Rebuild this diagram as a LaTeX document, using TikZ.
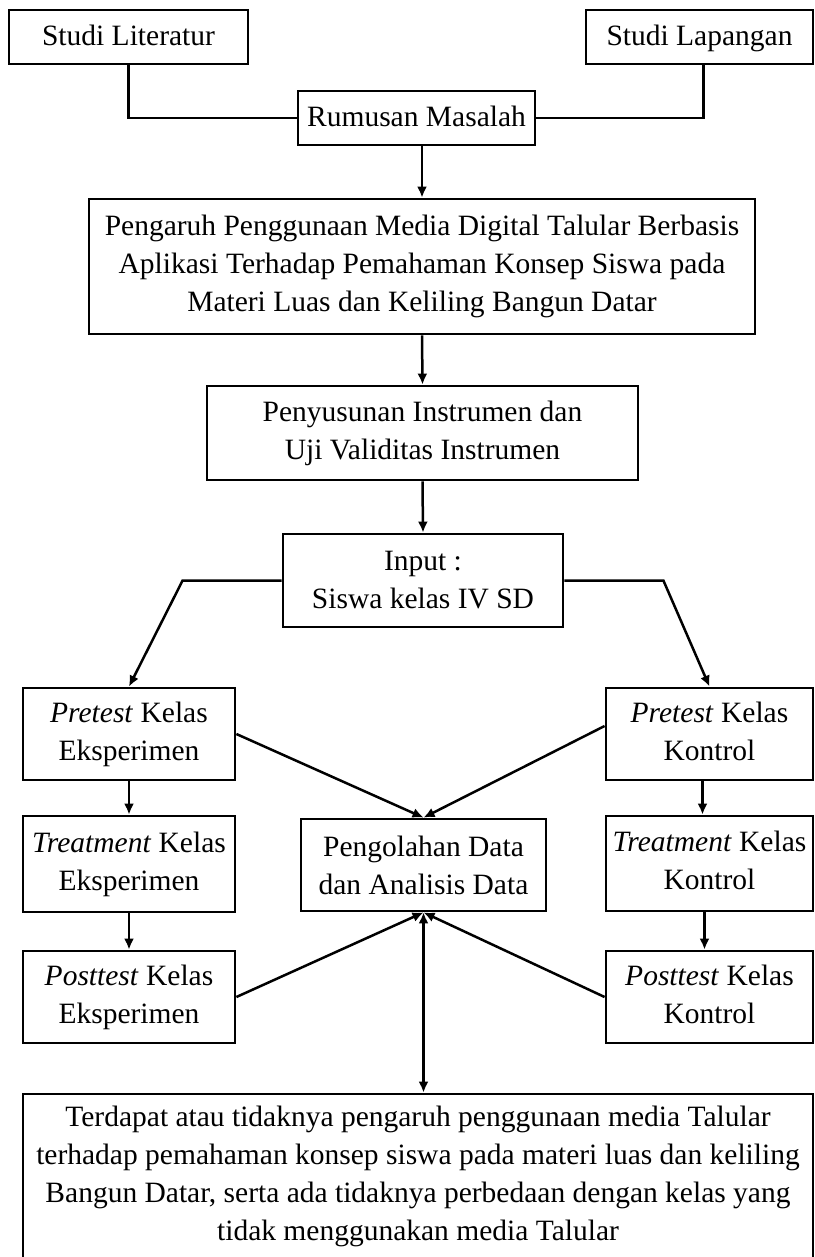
\documentclass[tikz,border=0pt]{standalone}
\usepackage{fontspec}
\setmainfont{Liberation Serif}
\usetikzlibrary{arrows.meta}

\begin{document}
\begin{tikzpicture}[x=.5pt,y=-.5pt,font=\fontsize{14.75pt}{19pt}\selectfont,
    >={Latex[length=5.5pt,width=5pt]},
    kotak/.style={draw,line width=1.4pt,align=center,inner sep=1pt},
    satu/.style={kotak,minimum height=27pt,text height=11pt,text depth=2pt},
    garis/.style={line width=1.25pt}]
  \useasboundingbox (0,0) rectangle (814,1257);
  % studi awal
  \node[satu,minimum width=119.5pt] (lit) at (128.5,37) {Studi Literatur};
  \node[satu,minimum width=113.5pt] (lap) at (699.5,37) {Studi Lapangan};
  \node[satu,minimum width=118.5pt] (rum) at (416.5,118) {Rumusan Masalah};
  \node[kotak,minimum width=333pt,minimum height=67.5pt] (peng) at (422,266.5)
    {Pengaruh Penggunaan Media Digital Talular Berbasis\\ Aplikasi Terhadap Pemahaman Konsep Siswa pada\\ Materi Luas dan Keliling Bangun Datar};
  \node[kotak,minimum width=215.5pt,minimum height=47pt] (susun) at (422.5,433)
    {Penyusunan Instrumen dan\\ Uji Validitas Instrumen};
  \node[kotak,minimum width=140pt,minimum height=46.5pt] (input) at (423,580.5)
    {Input :\\ Siswa kelas IV SD};
  % kelas eksperimen dan kontrol
  \node[kotak,minimum width=106pt,minimum height=46pt] (preE) at (129,734) {\textit{Pretest} Kelas\\ Eksperimen};
  \node[kotak,minimum width=103.5pt,minimum height=46pt] (preK) at (709.5,734) {\textit{Pretest} Kelas\\ Kontrol\vphantom{p}};
  \node[kotak,minimum width=106pt,minimum height=48pt] (treE) at (129,864) {\textit{Treatment} Kelas\\ Eksperimen};
  \node[kotak,minimum width=122.5pt,minimum height=46pt] (olah) at (423.5,865) {Pengolahan Data\\ dan Analisis Data};
  \node[kotak,minimum width=103.5pt,minimum height=47.5pt] (treK) at (709.5,863.5) {\textit{Treatment} Kelas\\ Kontrol\vphantom{p}};
  \node[kotak,minimum width=106pt,minimum height=46pt] (postE) at (129,997) {\textit{Posttest} Kelas\\ Eksperimen};
  \node[kotak,minimum width=103.5pt,minimum height=46pt] (postK) at (709.5,997) {\textit{Posttest} Kelas\\ Kontrol\vphantom{p}};
  \node[kotak,minimum width=395pt,minimum height=82pt] (hasil) at (418,1176)
    {Terdapat atau tidaknya pengaruh penggunaan media Talular\\ terhadap pemahaman konsep siswa pada materi luas dan keliling\\ Bangun Datar, serta ada tidaknya perbedaan dengan kelas yang\\ tidak menggunakan media Talular};

  % alur
  \draw[garis] (lit.south) |- (rum.west);
  \draw[garis] ([xshift=2pt]lap.south) |- (rum.east);
  \draw[garis,->] (rum.south -| peng.north) -- (peng.north);
  \draw[garis,->] (peng.south) -- (susun.north);
  \draw[garis,->] (susun.south) -- (input.north);
  \draw[garis,->] (input.west) -- ++(-99,0) -- (preE.north);
  \draw[garis,->] (input.east) -- ++(99,0) -- (preK.north);
  \draw[garis,->] (preE.east) -- (olah.north);
  \draw[garis,->] ([yshift=4pt]preK.west) -- (olah.north);
  \draw[garis,->] (preE.south) -- (treE.north);
  \draw[garis,->] ([xshift=-3.5pt]preK.south) -- ([xshift=-3.5pt]treK.north);
  \draw[garis,->] (treE.south) -- (postE.north);
  \draw[garis,->] ([xshift=-2.5pt]treK.south) -- ([xshift=-2.5pt]postK.north);
  \draw[garis,->] (postE.east) -- (olah.south);
  \draw[garis,->] (postK.west) -- (olah.south);
  \draw[garis,<->] (olah.south) -- (olah.south |- hasil.north);
\end{tikzpicture}
\end{document}
